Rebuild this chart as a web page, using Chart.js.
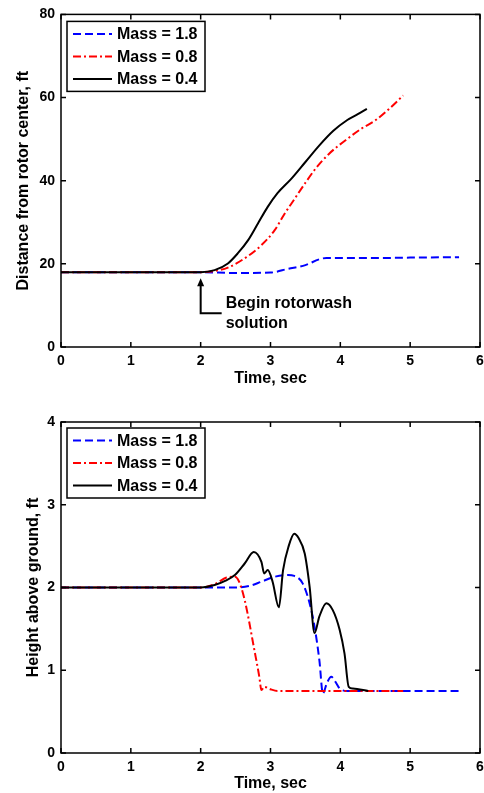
<!DOCTYPE html>
<html>
<head>
<meta charset="utf-8">
<script src="https://cdn.jsdelivr.net/npm/chart.js@4.4.1/dist/chart.umd.min.js"></script>
<style>
  body { margin: 0; background: #fff; }
  .wrap { position: absolute; left: 0; width: 484px; }
</style>
</head>
<body>
<div class="wrap" style="top:0;height:395px"><canvas id="chartDist" width="484" height="395"></canvas></div>
<div class="wrap" style="top:400px;height:393px"><canvas id="chartHeight" width="484" height="393"></canvas></div>
<script>
// series labels
var seriesNames = ['Mass = 1.8', 'Mass = 0.8', 'Mass = 0.4'];

// top: distance from rotor center (ft) vs time (sec)
var distTime18 = [0, 2, 2.5, 3.0, 3.25, 3.5, 3.7, 3.8, 4.5, 5.0, 5.7];
var dist18     = [18, 18, 17.8, 17.9, 18.8, 19.7, 21.1, 21.4, 21.4, 21.5, 21.6];
var distTime08 = [0, 2, 2.2, 2.39, 2.68, 2.87, 3.06, 3.2, 3.34, 3.5, 3.65, 3.84, 4.08, 4.3, 4.5, 4.7, 4.9];
var dist08     = [18, 18, 18.3, 19.1, 21.9, 24.5, 28.1, 32, 35.5, 39.5, 43, 46.5, 49.8, 52.5, 54.5, 57.3, 60.5];
var distTime04 = [0, 2, 2.2, 2.39, 2.53, 2.68, 2.82, 2.96, 3.1, 3.3, 3.5, 3.7, 3.9, 4.1, 4.25, 4.38];
var dist04     = [18, 18, 18.5, 20.1, 22.5, 25.7, 29.7, 33.7, 37, 40.5, 44.5, 48.5, 52, 54.6, 56, 57.3];

// bottom: height above ground (ft) vs time (sec)
var hTime18 = [0, 2, 2.5, 2.7, 2.87, 3.06, 3.25, 3.34, 3.46, 3.56, 3.63, 3.7, 3.75, 3.81, 3.87, 3.93, 3.99, 4.1, 5.7];
var h18     = [2, 2, 2, 2.02, 2.07, 2.13, 2.15, 2.14, 2.05, 1.81, 1.53, 1.12, 0.72, 0.85, 0.92, 0.86, 0.78, 0.75, 0.75];
var hTime08 = [0, 2, 2.2, 2.37, 2.49, 2.55, 2.63, 2.77, 2.84, 2.87, 2.91, 3.0, 3.1, 4.9];
var h08     = [2, 2, 2.04, 2.12, 2.13, 2.07, 1.85, 1.24, 0.92, 0.76, 0.8, 0.77, 0.75, 0.75];
var hTime04 = [0, 2, 2.2, 2.35, 2.49, 2.63, 2.76, 2.87, 2.91, 2.96, 3.03, 3.12, 3.18, 3.26, 3.34, 3.4, 3.49, 3.56, 3.63, 3.7, 3.8, 3.89, 3.99, 4.06, 4.12, 4.18, 4.4];
var h04     = [2, 2, 2.03, 2.08, 2.15, 2.29, 2.43, 2.31, 2.17, 2.21, 2.07, 1.76, 2.21, 2.5, 2.65, 2.6, 2.41, 2.01, 1.45, 1.65, 1.81, 1.73, 1.49, 1.2, 0.8, 0.78, 0.75];

var FONT = '"Liberation Sans", Arial, sans-serif';
Chart.defaults.color = '#000';
Chart.defaults.font.family = FONT;

function toPoints(xs, ys) {
  return xs.map(function(x, i) { return { x: x, y: ys[i] }; });
}

function makeDatasets(t18, v18, t08, v08, t04, v04) {
  return [
    { label: seriesNames[0], data: toPoints(t18, v18), borderColor: '#0000ff', borderDash: [8, 4], order: 2 },
    { label: seriesNames[1], data: toPoints(t08, v08), borderColor: '#ff0000', borderDash: [8, 3, 2, 3], order: 1 },
    { label: seriesNames[2], data: toPoints(t04, v04), borderColor: '#000000', borderDash: [], order: 0 }
  ];
}

// frame, inward ticks and boxed legend like the original
var framePlugin = {
  id: 'frame',
  afterDatasetsDraw: function(chart, args, opts) {
    var ctx = chart.ctx, a = chart.chartArea;
    var xs = chart.scales.x, ys = chart.scales.y;
    ctx.save();
    ctx.strokeStyle = '#000';
    ctx.lineWidth = 1.5;
    ctx.setLineDash([]);
    ctx.beginPath();
    xs.ticks.forEach(function(t) {
      var px = xs.getPixelForValue(t.value);
      ctx.moveTo(px, a.bottom); ctx.lineTo(px, a.bottom - 5);
      ctx.moveTo(px, a.top); ctx.lineTo(px, a.top + 5);
    });
    ys.ticks.forEach(function(t) {
      var py = ys.getPixelForValue(t.value);
      ctx.moveTo(a.left, py); ctx.lineTo(a.left + 5, py);
      ctx.moveTo(a.right, py); ctx.lineTo(a.right - 5, py);
    });
    ctx.stroke();
    ctx.strokeRect(a.left, a.top, a.right - a.left, a.bottom - a.top);

    var lx = a.left + 6, ly = a.top + opts.top;
    ctx.fillStyle = '#fff';
    ctx.fillRect(lx, ly, 138, 70);
    ctx.strokeRect(lx, ly, 138, 70);
    ctx.font = 'bold 16px ' + FONT;
    ctx.textBaseline = 'middle';
    chart.data.datasets.forEach(function(ds, i) {
      var yy = ly + 12.5 + i * 22.5;
      ctx.setLineDash(ds.borderDash);
      ctx.strokeStyle = ds.borderColor;
      ctx.lineWidth = 2;
      ctx.beginPath(); ctx.moveTo(lx + 6, yy); ctx.lineTo(lx + 45, yy); ctx.stroke();
      ctx.setLineDash([]);
      ctx.fillStyle = '#000';
      ctx.fillText(ds.label, lx + 50, yy + 1);
    });
    ctx.restore();
  }
};

// "Begin rotorwash solution" arrow on the top chart
var notePlugin = {
  id: 'note',
  afterDatasetsDraw: function(chart) {
    var ctx = chart.ctx;
    var px = chart.scales.x.getPixelForValue(2);
    var py = chart.scales.y.getPixelForValue(18) + 6;
    ctx.save();
    ctx.strokeStyle = '#000';
    ctx.fillStyle = '#000';
    ctx.lineWidth = 2;
    ctx.beginPath();
    ctx.moveTo(px, py + 4); ctx.lineTo(px, py + 35); ctx.lineTo(px + 21, py + 35);
    ctx.stroke();
    ctx.beginPath();
    ctx.moveTo(px, py); ctx.lineTo(px - 3.5, py + 8); ctx.lineTo(px + 3.5, py + 8); ctx.closePath();
    ctx.fill();
    ctx.font = 'bold 16px ' + FONT;
    ctx.textBaseline = 'middle';
    ctx.fillText('Begin rotorwash', px + 25, py + 25);
    ctx.fillText('solution', px + 25, py + 45);
    ctx.restore();
  }
};

function makeChart(id, datasets, yMax, yStep, yTitle, yTitlePad, padTop, xHeight, xTitlePad, legendTop, extra) {
  return new Chart(id, {
    type: 'line',
    data: { datasets: datasets },
    options: {
      responsive: false,
      animation: false,
      layout: { padding: { top: padTop, right: 4, bottom: 0, left: 0 } },
      elements: {
        line: { borderWidth: 2, cubicInterpolationMode: 'monotone', fill: false },
        point: { radius: 0 }
      },
      plugins: {
        legend: { display: false },
        tooltip: { enabled: false },
        frame: { top: legendTop }
      },
      scales: {
        x: {
          type: 'linear', min: 0, max: 6,
          ticks: { stepSize: 1, padding: 6, font: { size: 14, weight: 'bold' } },
          grid: { display: false, drawTicks: false },
          border: { display: false },
          title: { display: true, text: 'Time, sec', font: { size: 16, weight: 'bold' }, padding: { top: 0, bottom: xTitlePad } },
          afterFit: function(s) { s.height = xHeight; s.paddingLeft = 0; s.paddingRight = 0; }
        },
        y: {
          type: 'linear', min: 0, max: yMax,
          ticks: { stepSize: yStep, padding: 6, font: { size: 14, weight: 'bold' } },
          grid: { display: false, drawTicks: false },
          border: { display: false },
          title: { display: true, text: yTitle, font: { size: 16, weight: 'bold' }, padding: { top: yTitlePad, bottom: 0 } },
          afterFit: function(s) { s.width = 61; }
        }
      }
    },
    plugins: extra
  });
}

makeChart('chartDist', makeDatasets(distTime18, dist18, distTime08, dist08, distTime04, dist04),
  80, 20, 'Distance from rotor center, ft', 14, 14, 48, 7, 7, [framePlugin, notePlugin]);

makeChart('chartHeight', makeDatasets(hTime18, h18, hTime08, h08, hTime04, h04),
  4, 1, 'Height above ground, ft', 24, 22, 40, 0, 6, [framePlugin]);
</script>
</body>
</html>
